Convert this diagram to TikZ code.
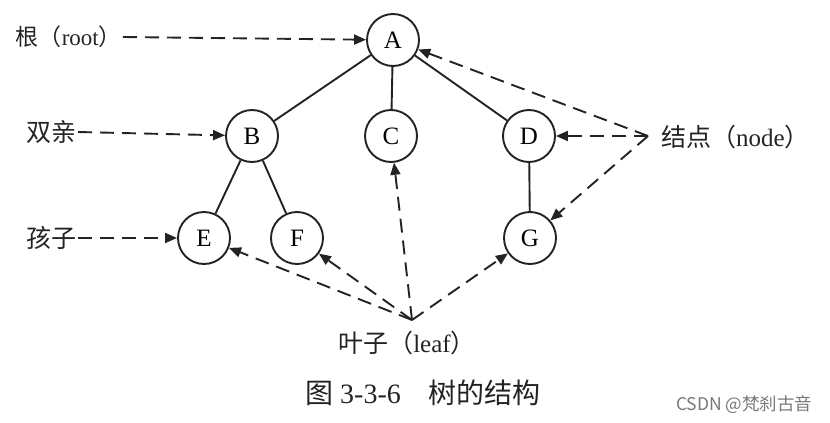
\documentclass[tikz,border=0pt]{standalone}
\usepackage{fontspec}
\setmainfont{Liberation Serif}
\newfontfamily\cjk{Noto Sans CJK SC}
\usetikzlibrary{arrows.meta}
\definecolor{inkgray}{RGB}{35,35,35}
\definecolor{markgray}{RGB}{120,120,120}

\begin{document}
\begin{tikzpicture}[x=1pt,y=-1pt,
    vertex/.style={circle,draw=inkgray,line width=1.9pt,minimum size=52pt,inner sep=0pt,
      font=\fontsize{25}{27}\selectfont},
    edge/.style={draw=inkgray,line width=1.9pt},
    ptr/.style={draw=inkgray,line width=1.9pt,dash pattern=on 14pt off 8pt,
      -{Triangle[length=12pt,width=10pt]}},
    lbl/.style={text=inkgray,inner sep=1pt,font=\fontsize{25}{28}\selectfont}]
  \useasboundingbox (0,0) rectangle (830,423);
  % tree
  \node[vertex] (A) at (393,40) {A};
  \node[vertex] (B) at (252,136) {B};
  \node[vertex] (C) at (391,136) {C};
  \node[vertex] (D) at (529,136) {D};
  \node[vertex] (E) at (204,238) {E};
  \node[vertex] (F) at (297,238) {F};
  \node[vertex] (G) at (530,238) {G};
  \draw[edge] (A) -- (B);
  \draw[edge] (A) -- (C);
  \draw[edge] (A) -- (D);
  \draw[edge] (B) -- (E);
  \draw[edge] (B) -- (F);
  \draw[edge] (D) -- (G);
  % labels on the left
  \node[lbl,anchor=east,font=\fontsize{23}{26}\selectfont] (root) at (123,37) {{\cjk 根（}root{\cjk ）}};
  \node[lbl,anchor=east] (parent) at (78,132) {\cjk 双亲};
  \node[lbl,anchor=east] (child) at (78,238) {\cjk 孩子};
  \draw[ptr] (root.east) -- (A);
  \draw[ptr] (parent.east) -- (B);
  \draw[ptr] (child.east) -- (E);
  % node label
  \coordinate (nodept) at (648,136);
  \node[lbl,anchor=west] (nodelbl) at (660,137) {{\cjk 结点（}node{\cjk ）}};
  \draw[ptr] (nodept) -- (A);
  \draw[ptr] (nodept) -- (D);
  \draw[ptr] (nodept) -- (G);
  % leaf label
  \coordinate (leafpt) at (412,320);
  \node[lbl] (leaf) at (407,343) {{\cjk 叶子（}leaf{\cjk ）}};
  \draw[ptr] (leafpt) -- (E);
  \draw[ptr] (leafpt) -- (F);
  \draw[ptr] (leafpt) -- (C);
  \draw[ptr] (leafpt) -- (G);
  % caption
  \node[text=inkgray,font=\fontsize{28}{30}\selectfont] (caption) at (423,393)
    {{\cjk 图} 3-3-6\quad{\cjk 树的结构}};
  \node[text=markgray,anchor=east,font=\cjk\fontsize{17.5}{20}\selectfont] (mark) at (816,405)
    {CSDN @梵刹古音};
\end{tikzpicture}
\end{document}
